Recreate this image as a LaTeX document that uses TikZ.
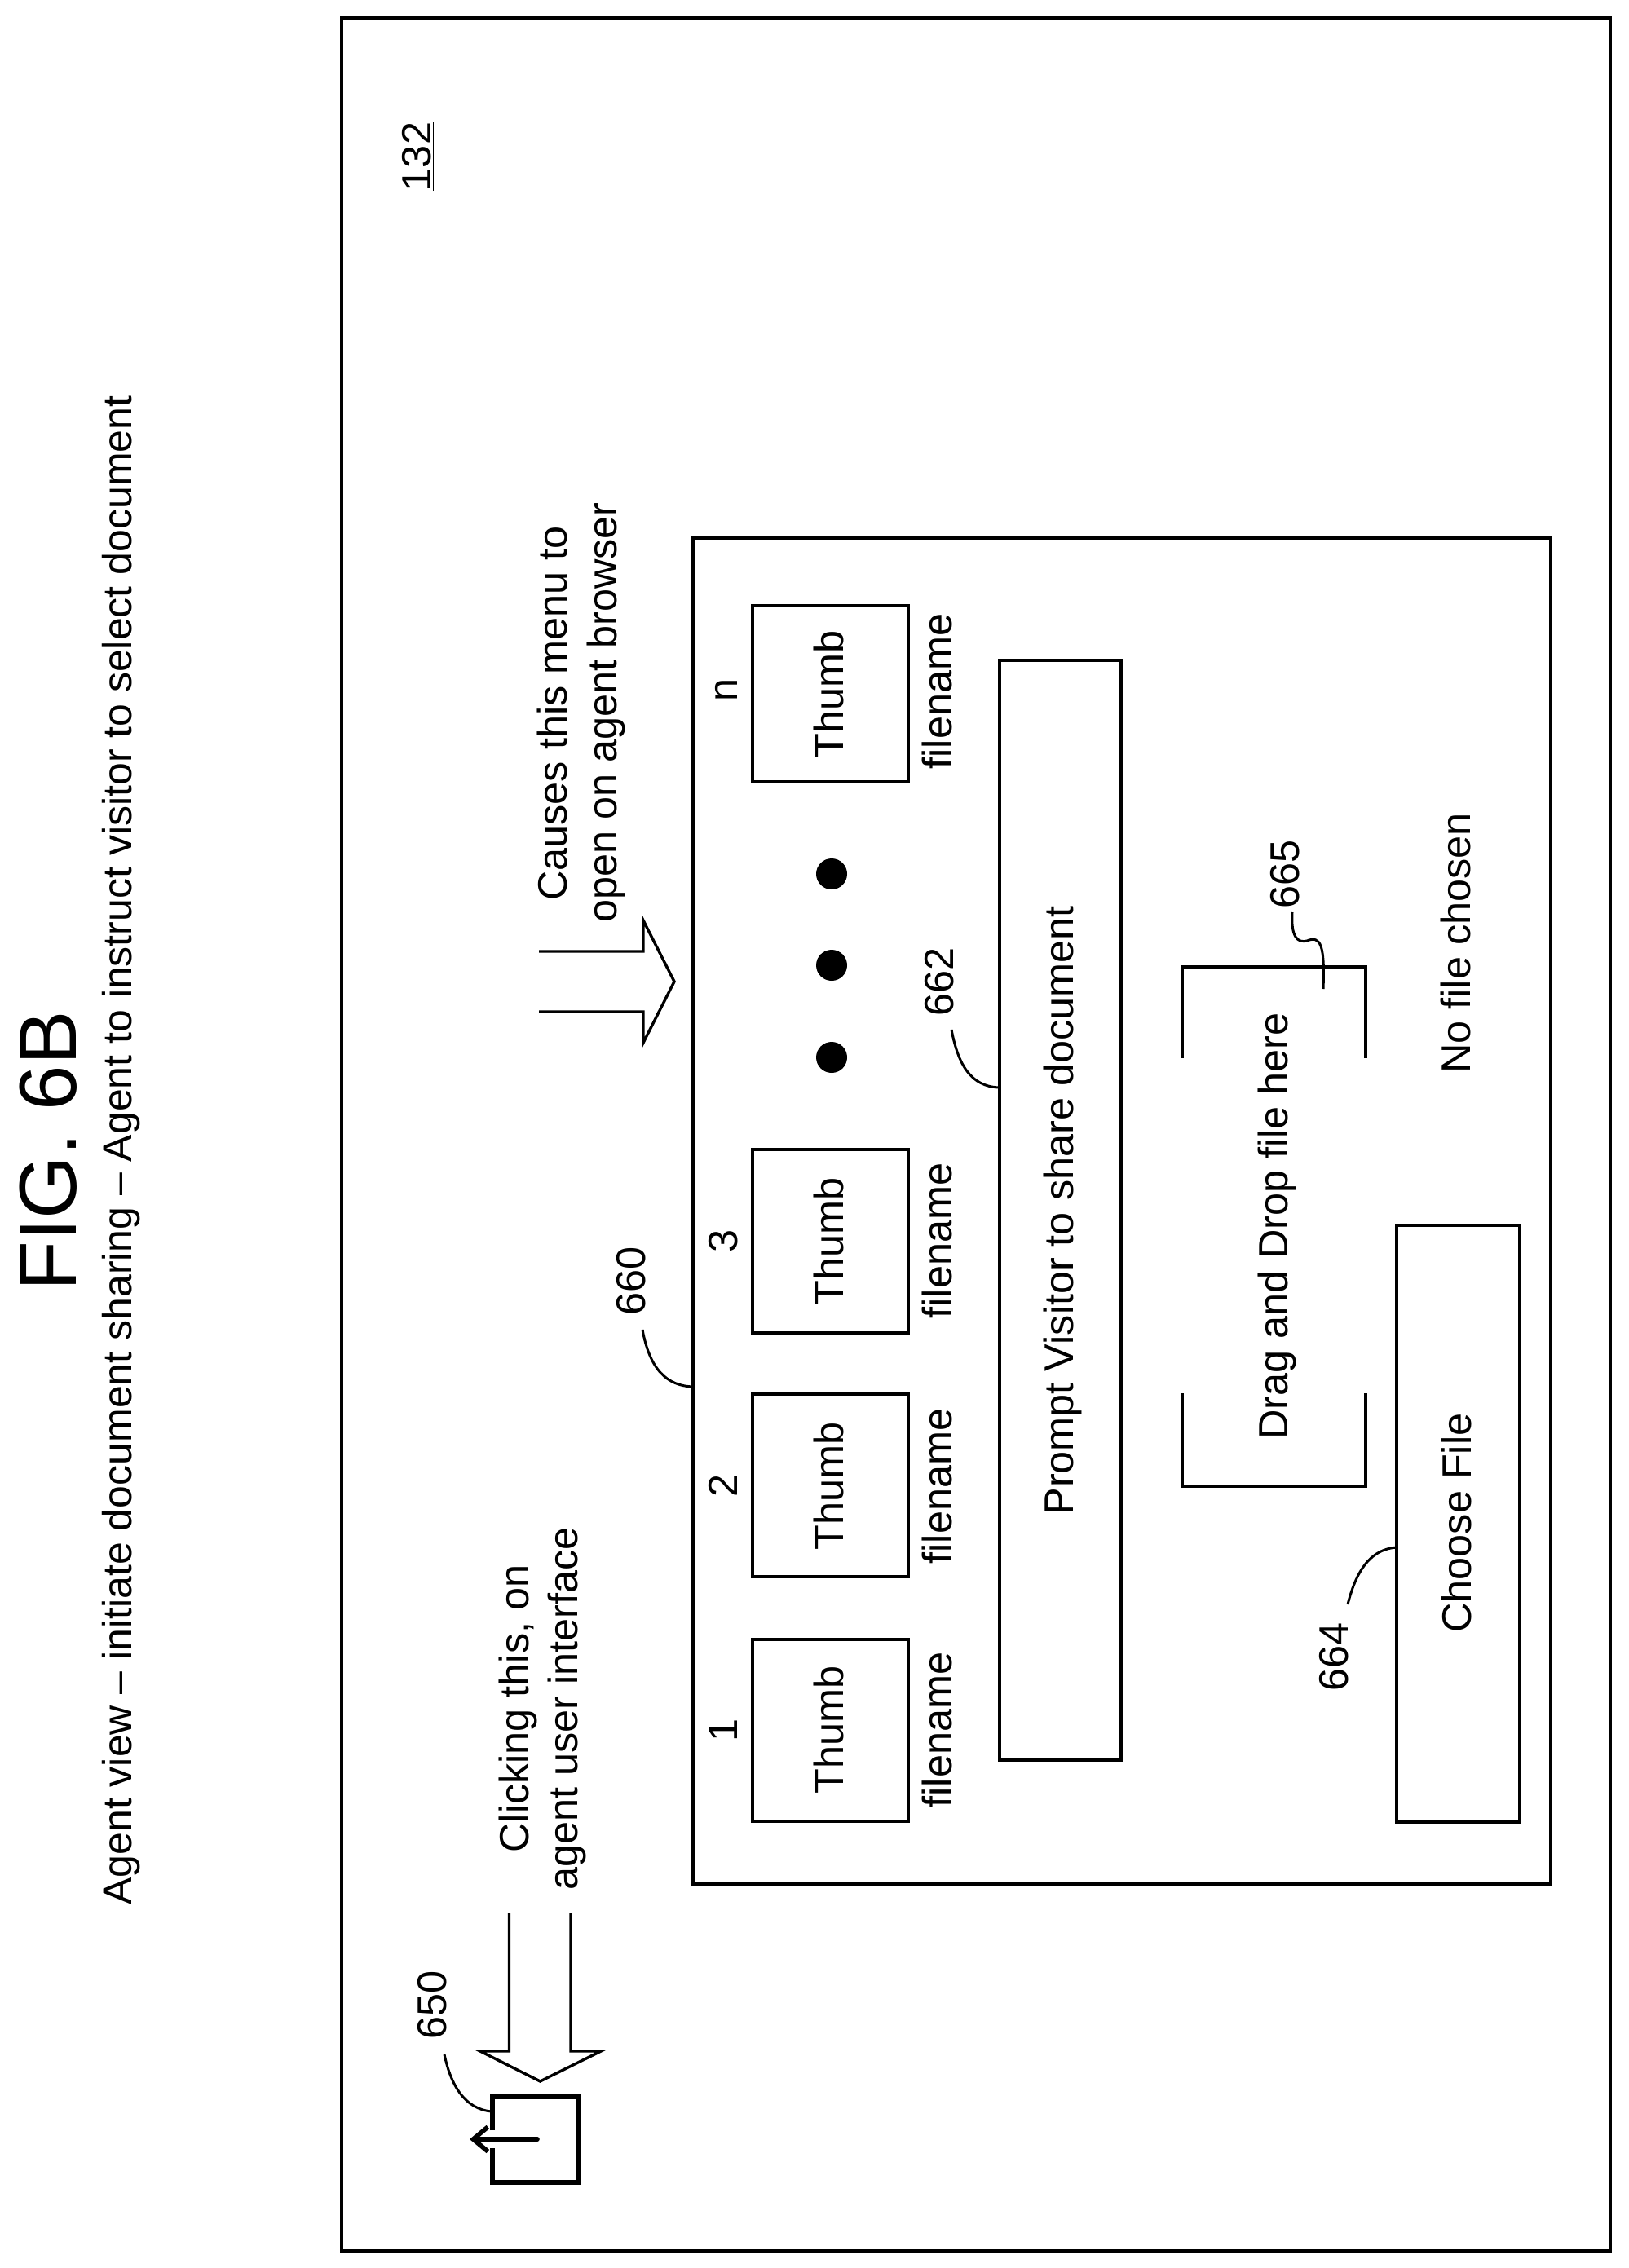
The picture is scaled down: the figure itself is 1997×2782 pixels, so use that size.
\documentclass[tikz,border=0pt]{standalone}
\usepackage{fontspec}
\setmainfont{Liberation Sans}
\usetikzlibrary{arrows.meta}
\tikzset{
  pxbox/.style={draw=black,line width=2pt,inner sep=0pt,outer sep=0pt,rectangle},
  lab/.style={rotate=90,anchor=base,inner sep=0pt,outer sep=0pt,font=\fontsize{25.2pt}{30pt}\selectfont},
  figlab/.style={lab,font=\fontsize{49.8pt}{60pt}\selectfont},
  lead/.style={draw=black,line width=1.5pt},
  block/.style={draw=black,line width=1.7pt,line join=miter},
  dot/.style={circle,fill=black,draw=none,inner sep=0pt,minimum size=19pt},
}
\newcommand{\pxb}[5]{\node[pxbox,minimum width={(#4-#2)*0.5pt},minimum height={(#5-#3)*0.5pt}] (#1) at ({(#2+#4)/2},{(#3+#5)/2}) {};}
\begin{document}
\begin{tikzpicture}[x=0.5pt,y=-0.5pt]
\useasboundingbox (0,0) rectangle (1997,2782);
% frames
\pxb{outer}{419}{22}{1975}{2761}
\pxb{menu}{850}{660}{1902}{2311}
\pxb{thumbn}{923}{743}{1114}{959}
\pxb{thumbc}{923}{1410}{1114}{1635}
\pxb{thumbb}{923}{1710}{1114}{1934}
\pxb{thumba}{923}{2011}{1114}{2234}
\pxb{prompt}{1226}{810}{1375}{2159}
\pxb{choose}{1713}{1503}{1864}{2235}
\node[dot] (dotc) at (1020,1072) {};
\node[dot] (dotb) at (1020,1184) {};
\node[dot] (dota) at (1020,1297) {};
% titles
\node[figlab] (fig) at (93,1412) {FIG. 6B};
\node[lab,font=\fontsize{25pt}{30pt}\selectfont] (title) at (161,1411) {Agent view – initiate document sharing – Agent to instruct visitor to select document};
\node[lab] (ref) at (528,192) {\underline{132}};
% arrow labels
\node[lab] (causesa) at (695,875) {Causes this menu to};
\node[lab] (causesb) at (756,874) {open on agent browser};
\node[lab] (clicka) at (648,2096) {Clicking this, on};
\node[lab] (clickb) at (708,2096) {agent user interface};
% numbers over thumbs
\node[lab] (na) at (904,2122) {1};
\node[lab] (nb) at (904,1822) {2};
\node[lab] (nc) at (904,1522) {3};
\node[lab] (nn) at (904,846) {n};
\foreach \nm/\yy in {a/2122,b/1823,c/1523,n/852}{
  \node[lab] (tt\nm) at (1034,\yy) {Thumb};
}
\foreach \nm/\yy in {a/2122,b/1823,c/1522,n/848}{
  \node[lab] (fn\nm) at (1167,\yy) {filename};
}
\node[lab] (prompttxt) at (1316,1485) {Prompt Visitor to share document};
\node[lab] (dragtxt) at (1579,1504) {Drag and Drop file here};
\node[lab] (choosetxt) at (1804,1868) {Choose File};
\node[lab] (nofile) at (1803,1157) {No file chosen};
% reference numerals
\node[lab] (r650) at (547,2459) {650};
\node[lab] (r660) at (791,1571) {660};
\node[lab] (r662) at (1169,1204) {662};
\node[lab] (r664) at (1653,2032) {664};
\node[lab] (r665) at (1593,1072) {665};
% drop-zone brackets
\draw[line width=2pt,line cap=butt] (1450,1298) -- (1450,1186) -- (1675,1186) -- (1675,1298);
\draw[line width=2pt,line cap=butt] (1450,1709) -- (1450,1823) -- (1675,1823) -- (1675,1709);
% block arrows
\draw[block] (661,1167) -- (789,1167) -- (789,1129) -- (827,1204) -- (789,1279) -- (789,1241) -- (661,1241);
\draw[block] (624.5,2347) -- (624.5,2516) -- (589,2516) -- (662.5,2553) -- (737,2516) -- (700,2516) -- (700,2347);
% share icon
\draw[line width=2.8pt,line cap=butt,line join=miter] (604,2613) -- (604,2572) -- (710,2572) -- (710,2677) -- (604,2677) -- (604,2635);
\coordinate (iconin) at (659,2624);
\coordinate (iconout) at (576,2624);
\draw[line width=2.8pt,line cap=round,-{Straight Barb[length=9pt,width=15pt,line width=2.8pt]}] (iconin) -- (iconout);
% leaders
\coordinate (l650) at (545,2520);
\coordinate (e650) at (603,2590);
\draw[lead] (l650) .. controls (553,2558) and (570,2587) .. (e650);
\coordinate (l660) at (788,1631);
\coordinate (e660) at (850,1701);
\draw[lead] (l660) .. controls (797,1680) and (818,1700) .. (e660);
\coordinate (l662) at (1167,1263);
\coordinate (e662) at (1226,1334);
\draw[lead] (l662) .. controls (1175,1305) and (1190,1333) .. (e662);
\coordinate (l664) at (1653,1968);
\coordinate (e664) at (1713,1898);
\draw[lead] (l664) .. controls (1665,1920) and (1685,1900) .. (e664);
\coordinate (l665) at (1585,1119);
\coordinate (e665) at (1623,1213);
\draw[lead] (l665) .. controls (1583,1150) and (1592,1157) .. (1603,1154) .. controls (1620,1147) and (1625,1160) .. (e665);
\end{tikzpicture}
\end{document}
